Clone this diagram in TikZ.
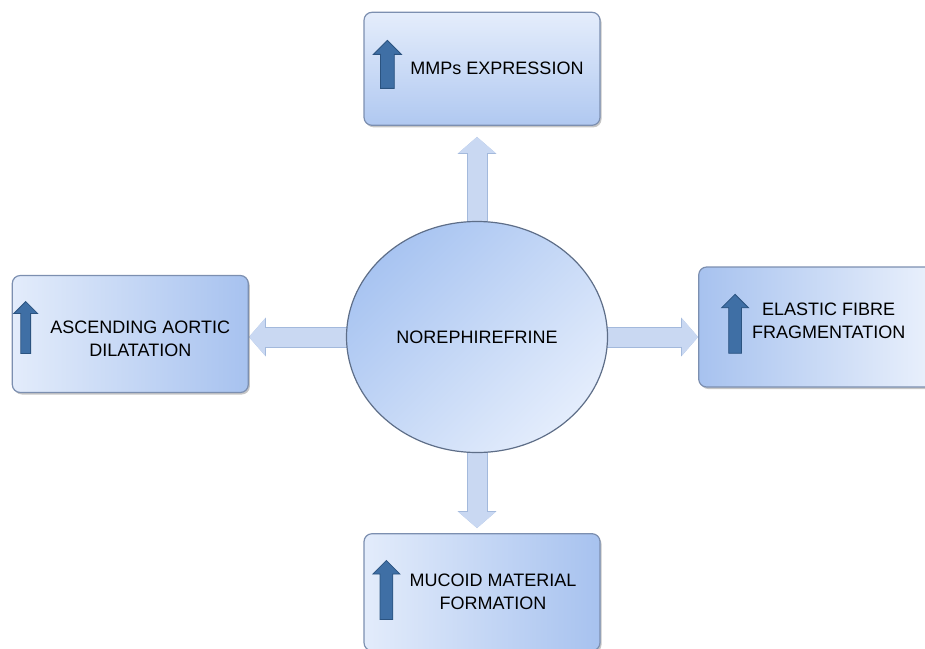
\documentclass[tikz,border=0pt]{standalone}
\usepackage{fontspec}
\setmainfont{Liberation Sans}
\usetikzlibrary{arrows.meta,positioning,shapes.geometric,shapes.arrows,shadows,backgrounds}
\definecolor{boxlight}{HTML}{E3ECFB}
\definecolor{boxdark}{HTML}{A7C2EF}
\definecolor{boxedge}{HTML}{7C8FB0}
\definecolor{hubdark}{HTML}{A8C4F1}
\definecolor{hublight}{HTML}{E4EDFC}
\definecolor{ringedge}{HTML}{5E6E88}
\definecolor{linkfill}{HTML}{C9D8F2}
\definecolor{linkedge}{HTML}{A3B9DC}
\definecolor{markfill}{HTML}{3F6FA5}
\definecolor{markedge}{HTML}{2B5380}
\tikzset{
  effectbox/.style={draw=boxedge, line width=1.2pt, rounded corners=8pt, minimum width=236pt, minimum height=117pt, inner sep=0pt,
    drop shadow={shadow xshift=1.5pt, shadow yshift=-2pt, opacity=0.45}},
  hubnode/.style={ellipse, draw=ringedge, line width=1.2pt, minimum width=261pt, minimum height=231pt, inner sep=0pt,
    top color=hubdark, bottom color=hublight, shading angle=45, font=\fontsize{18pt}{22pt}\selectfont},
  boxtext/.style={align=center, inner sep=0pt, font=\fontsize{18pt}{23pt}\selectfont},
  upmark/.style={single arrow, shape border rotate=90, draw=markedge, fill=markfill, line width=0.8pt, inner ysep=0pt},
  linkarrow/.style={line width=19pt, draw=linkfill, -{Triangle[length=16pt,width=36pt]},
    preaction={draw=linkedge, line width=21pt, -{Triangle[length=17pt,width=38pt]}}}
}
\begin{document}
\begin{tikzpicture}[x=1pt, y=1pt]
  \useasboundingbox (0,0) rectangle (925,-648);
  \node[hubnode] (norep) at (477,-337) {NOREPHIREFRINE};

  \node[effectbox, top color=boxlight!95!white, bottom color=boxdark!85!boxlight, minimum height=113pt, above=95pt of norep, xshift=5pt] (mmps) {};
  \node[effectbox, left color=boxlight, right color=boxdark, left=97pt of norep, yshift=3pt] (aortic) {};
  \node[effectbox, left color=boxdark, right color=boxlight!70!white, minimum width=240pt, minimum height=120pt, right=90pt of norep, yshift=10pt] (elastic) {};
  \node[effectbox, left color=boxlight, right color=boxdark, below=80pt of norep, xshift=5pt] (mucoid) {};

  \node[boxtext] (mmpstext) at ([xshift=15pt]mmps.center) {MMPs EXPRESSION};
  \node[boxtext] (aortictext) at ([xshift=10pt, yshift=-5pt]aortic.center) {ASCENDING AORTIC\\DILATATION};
  \node[boxtext] (elastictext) at ([xshift=10pt, yshift=6pt]elastic.center) {ELASTIC FIBRE\\FRAGMENTATION};
  \node[boxtext] (mucoidtext) at ([xshift=11pt]mucoid.center) {MUCOID MATERIAL\\FORMATION};

  % shaft = 2 x inner xsep, head = minimum width
  \node[upmark, inner xsep=6.5pt, minimum height=48pt, minimum width=26pt] (mmpsup) at ([xshift=24pt, yshift=1pt]mmps.west) {};
  \node[upmark, inner xsep=4.5pt, minimum height=52pt, minimum width=17pt] (aorticup) at ([xshift=14pt, yshift=4pt]aortic.west) {};
  \node[upmark, inner xsep=6pt, minimum height=59pt, minimum width=25pt] (elasticup) at ([xshift=37pt]elastic.west) {};
  \node[upmark, inner xsep=6pt, minimum height=59pt, minimum width=27pt] (mucoidup) at ([xshift=23pt, yshift=-1pt]mucoid.west) {};

  \begin{pgfonlayer}{background}
    \draw[linkarrow, shorten >=11pt] (norep.center) -- (norep.center |- mmps.south);
    \draw[linkarrow] (norep.center) -- (norep.center -| aortic.east);
    \draw[linkarrow] (norep.center) -- (norep.center -| elastic.west);
    \draw[linkarrow, shorten >=5pt] (norep.center) -- (norep.center |- mucoid.north);
  \end{pgfonlayer}
\end{tikzpicture}
\end{document}
